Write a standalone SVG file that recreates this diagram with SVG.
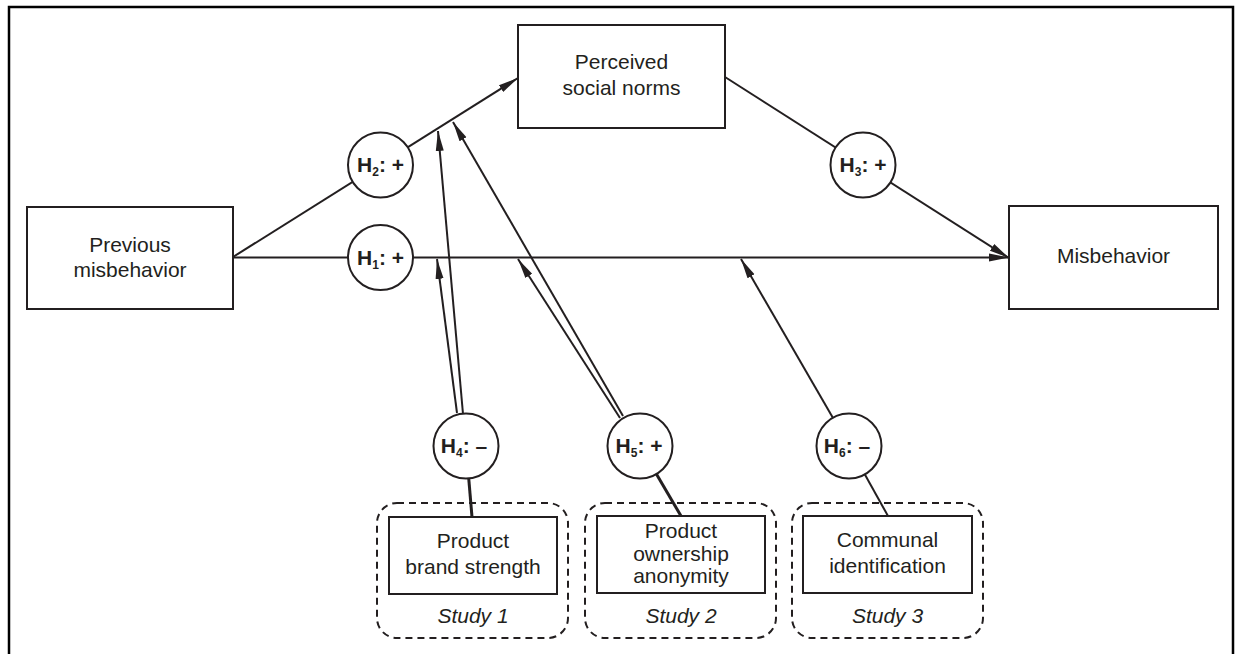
<svg xmlns="http://www.w3.org/2000/svg" width="1235" height="654" viewBox="0 0 1235 654">
<style>
.box{fill:#fff;stroke:#231f20;stroke-width:2}
.dash{fill:none;stroke:#231f20;stroke-width:2;stroke-dasharray:7 5}
.hc{fill:#fff;stroke:#231f20;stroke-width:2}
.ln{fill:none;stroke:#231f20;stroke-width:2}
.arr{fill:none;stroke:#231f20;stroke-width:2;marker-end:url(#ah)}
.t{font-family:"Liberation Sans",Arial,sans-serif;font-size:21px;fill:#231f20;text-anchor:middle}
.st{font-family:"Liberation Sans",Arial,sans-serif;font-size:21px;font-style:italic;fill:#231f20;text-anchor:middle}
.h{font-family:"Liberation Sans",Arial,sans-serif;font-size:21px;font-weight:bold;fill:#231f20;text-anchor:middle}
.sub{font-size:12px}
</style>
<defs>
<marker id="ah" markerUnits="userSpaceOnUse" markerWidth="20" markerHeight="10" viewBox="0 0 20 10" refX="20" refY="5" orient="auto">
<path d="M0,1 L20,5 L0,9 z" fill="#231f20"/>
</marker>
</defs>
<path d="M9,654 V7 H1233 V654" fill="none" stroke="#000" stroke-width="2.5"/>
<g id="connectors">
<line class="arr" x1="233" y1="257" x2="518" y2="78"/>
<line class="arr" x1="233" y1="257.5" x2="1009" y2="257.5"/>
<line class="arr" x1="725" y1="77" x2="1009" y2="258"/>
<line class="arr" x1="457" y1="413" x2="437" y2="259"/>
<line class="arr" x1="463" y1="414" x2="438" y2="131"/>
<line class="ln" x1="466" y1="446" x2="472" y2="517" style="stroke-width:3"/>
<line class="arr" x1="620" y1="418" x2="518" y2="259"/>
<line class="arr" x1="623" y1="416" x2="453" y2="122"/>
<line class="ln" x1="640" y1="446" x2="681" y2="516" style="stroke-width:3"/>
<line class="arr" x1="833" y1="418" x2="741" y2="259"/>
<line class="ln" x1="849" y1="446" x2="888" y2="516"/>
</g>
<g id="perceived">
<rect class="box" x="518" y="25" width="207" height="103"/>
<text class="t" x="621.5" y="69">Perceived</text>
<text class="t" x="621.5" y="95">social norms</text>
</g>
<g id="previous">
<rect class="box" x="27" y="207" width="206" height="102"/>
<text class="t" x="130" y="252">Previous</text>
<text class="t" x="130" y="277">misbehavior</text>
</g>
<g id="misbehavior">
<rect class="box" x="1009" y="206" width="209" height="103"/>
<text class="t" x="1113.5" y="263">Misbehavior</text>
</g>
<g id="h1">
<circle class="hc" cx="380.5" cy="257.5" r="32.5"/>
<text class="h" x="380.5" y="264.5">H<tspan class="sub" dy="4">1</tspan><tspan dy="-4">: +</tspan></text>
</g>
<g id="h2">
<circle class="hc" cx="380.5" cy="165" r="32.5"/>
<text class="h" x="380.5" y="172">H<tspan class="sub" dy="4">2</tspan><tspan dy="-4">: +</tspan></text>
</g>
<g id="h3">
<circle class="hc" cx="863" cy="165" r="32.5"/>
<text class="h" x="863" y="172">H<tspan class="sub" dy="4">3</tspan><tspan dy="-4">: +</tspan></text>
</g>
<g id="h4">
<circle class="hc" cx="466" cy="446" r="32.5"/>
<text class="h" x="464" y="453">H<tspan class="sub" dy="4">4</tspan><tspan dy="-4">: –</tspan></text>
</g>
<g id="h5">
<circle class="hc" cx="640" cy="446" r="32.5"/>
<text class="h" x="639" y="453">H<tspan class="sub" dy="4">5</tspan><tspan dy="-4">: +</tspan></text>
</g>
<g id="h6">
<circle class="hc" cx="849" cy="446" r="32.5"/>
<text class="h" x="847" y="453">H<tspan class="sub" dy="4">6</tspan><tspan dy="-4">: –</tspan></text>
</g>
<g id="study1">
<rect class="dash" x="377" y="503" width="191" height="135" rx="20"/>
<rect class="box" x="389" y="517" width="168" height="77"/>
<text class="t" x="473" y="548">Product</text>
<text class="t" x="473" y="574">brand strength</text>
<text class="st" x="473" y="623">Study 1</text>
</g>
<g id="study2">
<rect class="dash" x="585" y="503" width="191" height="135" rx="20"/>
<rect class="box" x="597" y="516" width="168" height="77"/>
<text class="t" x="681" y="538">Product</text>
<text class="t" x="681" y="561">ownership</text>
<text class="t" x="681" y="583">anonymity</text>
<text class="st" x="681" y="623">Study 2</text>
</g>
<g id="study3">
<rect class="dash" x="792" y="503" width="191" height="135" rx="20"/>
<rect class="box" x="803" y="516" width="169" height="77"/>
<text class="t" x="887.5" y="547">Communal</text>
<text class="t" x="887.5" y="573">identification</text>
<text class="st" x="887.5" y="623">Study 3</text>
</g>
</svg>
